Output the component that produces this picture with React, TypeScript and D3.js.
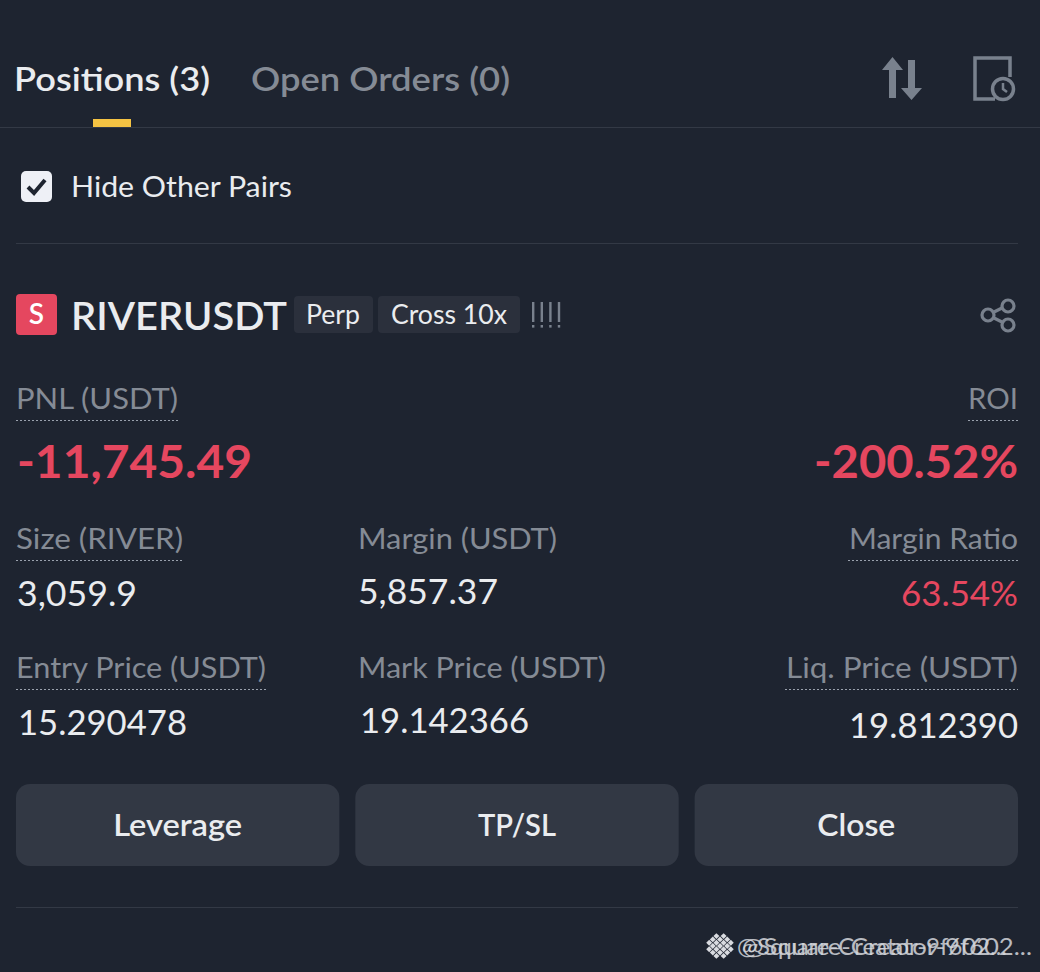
import React from 'react';
import * as d3 from 'd3';

const tabs = ['Positions (3)', 'Open Orders (0)'];
const filterLabel = 'Hide Other Pairs';
const symbol = 'RIVERUSDT';
const sideLabel = 'S';
const badges = ['Perp', 'Cross 10x'];
const pnlLabels = ['PNL (USDT)', 'ROI'];
const pnlValues = ['-11,745.49', '-200.52%'];
const rowOneLabels = ['Size (RIVER)', 'Margin (USDT)', 'Margin Ratio'];
const rowOneValues = ['3,059.9', '5,857.37', '63.54%'];
const rowTwoLabels = ['Entry Price (USDT)', 'Mark Price (USDT)', 'Liq. Price (USDT)'];
const rowTwoValues = ['15.290478', '19.142366', '19.812390'];
const buttons = ['Leverage', 'TP/SL', 'Close'];
const watermark = ['@Square-Creator-9f602...', '@Square-Creator-9f602...'];

const width = 1040;
const height = 972;
const BG = '#1e2430';
const WHITE = '#eaecef';
const GREY = '#858b95';
const RED = '#e5475f';
const LINE = '#333945';
const ICON = '#79818d';
const FONT = 'Lato, "Open Sans", sans-serif';

const buttonX = d3.scaleBand<string>().domain(buttons).range([16, 1018]).paddingInner(0.047).paddingOuter(0);
const buttonWidths = [129, 78, 78];

const anchors = ['start', 'start', 'end'];
const colX = [16, 358, 1018];
const rowOneLabelWidths = [167, 199, 169];
const rowTwoLabelWidths = [250, 248, 232];

// text stretched to the width it has in the reference
const T = ({ w, children, ...rest }: any) => (
  <text textLength={w} lengthAdjust="spacingAndGlyphs" {...rest}>
    {children}
  </text>
);

const dotted = (x1: number, x2: number, y: number) => (
  <line x1={x1} x2={x2} y1={y} y2={y} stroke="#9aa1ad" strokeWidth={1.2} strokeDasharray="2 2" />
);

export default function App() {
  return (
    <svg
      width={width}
      height={height}
      viewBox={`0 0 ${width} ${height}`}
      style={{ position: 'absolute', left: 0, top: 0, fontFamily: FONT }}
    >
      <rect width={width} height={height} fill={BG} />

      {/* tabs */}
      <T x={14} y={91} w={196} fontSize={33} fontWeight={600} fill={WHITE}>{tabs[0]}</T>
      <T x={251} y={91} w={259} fontSize={33} fontWeight={600} fill={GREY}>{tabs[1]}</T>
      <rect x={93} y={119} width={38} height={8} fill="#f5c343" />
      <line x1={0} x2={width} y1={127.5} y2={127.5} stroke={LINE} />

      {/* swap icon */}
      <g fill={ICON}>
        <path d="M889 98V70H882L892.5 57L903 70H896V98Z" />
        <path d="M908 60H915V88H922L911.5 100L901 88H908Z" />
      </g>
      {/* history icon */}
      <g fill="none" stroke={ICON} strokeWidth={3.5}>
        <path d="M995 99H975V58H1010V77" />
        <circle cx={1003} cy={89} r={10.5} />
        <path d="M1003 83V89L1007 92" strokeWidth={2.5} />
      </g>

      {/* filter */}
      <rect x={21} y={171} width={31} height={31} rx={5} fill="#eef0f6" />
      <path d="M28 187L34 193L45 180" fill="none" stroke={BG} strokeWidth={4} />
      <T x={71} y={197} w={221} fontSize={29} fill={WHITE}>{filterLabel}</T>
      <line x1={16} x2={1018} y1={243.5} y2={243.5} stroke={LINE} />

      {/* symbol row */}
      <rect x={16} y={294} width={41} height={41} rx={4} fill={RED} />
      <text x={36.5} y={324} fontSize={28} fontWeight={600} fill="#fff" textAnchor="middle">{sideLabel}</text>
      <T x={71} y={330} w={216} fontSize={38} fontWeight={600} fill={WHITE}>{symbol}</T>
      <rect x={294} y={296} width={79} height={37} rx={4} fill="#2b303c" />
      <T x={306} y={324} w={54} fontSize={26} fill={WHITE}>{badges[0]}</T>
      <rect x={378} y={296} width={142} height={37} rx={4} fill="#2b303c" />
      <T x={391} y={324} w={116} fontSize={26} fill={WHITE}>{badges[1]}</T>
      <g fill={ICON}>
        {d3.range(4).map((i) => (
          <g key={i}>
            <rect x={532 + i * 8.6} y={302} width={2.4} height={20} />
            <rect x={532 + i * 8.6} y={325} width={2.4} height={2.6} />
          </g>
        ))}
      </g>
      {/* share icon */}
      <g fill="none" stroke={ICON} strokeWidth={3.2}>
        <circle cx={1008} cy={306} r={6} />
        <circle cx={988} cy={315} r={6} />
        <circle cx={1008} cy={325} r={6} />
        <path d="M994 312L1002 308M994 318L1002 322" />
      </g>

      {/* pnl */}
      <T x={16} y={409} w={162} fontSize={29} fill={GREY}>{pnlLabels[0]}</T>
      {dotted(16, 178, 420.5)}
      <T x={1018} y={409} w={50} fontSize={29} fill={GREY} textAnchor="end">{pnlLabels[1]}</T>
      {dotted(968, 1018, 420.5)}
      <T x={17} y={478} w={235} fontSize={46} fontWeight={700} fill={RED}>{pnlValues[0]}</T>
      <T x={1018} y={478} w={204} fontSize={46} fontWeight={700} fill={RED} textAnchor="end">{pnlValues[1]}</T>

      {/* first row */}
      {rowOneLabels.map((t, i) => (
        <T key={t} x={colX[i]} y={549} w={rowOneLabelWidths[i]} fontSize={29} fill={GREY} textAnchor={anchors[i]}>{t}</T>
      ))}
      {dotted(16, 183, 560.5)}
      {dotted(848, 1018, 560.5)}
      <T x={17} y={606} w={120} fontSize={34} fill={WHITE}>{rowOneValues[0]}</T>
      <T x={358} y={604} w={140} fontSize={34} fill={WHITE}>{rowOneValues[1]}</T>
      <T x={1018} y={606} w={117} fontSize={34} fill={RED} textAnchor="end">{rowOneValues[2]}</T>

      {/* second row */}
      {rowTwoLabels.map((t, i) => (
        <T key={t} x={colX[i]} y={678} w={rowTwoLabelWidths[i]} fontSize={29} fill={GREY} textAnchor={anchors[i]}>{t}</T>
      ))}
      {dotted(16, 267, 689.5)}
      {dotted(785, 1018, 689.5)}
      <T x={18} y={735} w={169} fontSize={34} fill={WHITE}>{rowTwoValues[0]}</T>
      <T x={360} y={733} w={169} fontSize={34} fill={WHITE}>{rowTwoValues[1]}</T>
      <T x={1018} y={738} w={169} fontSize={34} fill={WHITE} textAnchor="end">{rowTwoValues[2]}</T>

      {/* buttons */}
      {buttons.map((b, i) => (
        <g key={b}>
          <rect x={buttonX(b)} y={784} width={buttonX.bandwidth()} height={82} rx={14} fill="#323844" />
          <T
            x={(buttonX(b) as number) + buttonX.bandwidth() / 2}
            y={836}
            w={buttonWidths[i]}
            fontSize={30}
            fontWeight={600}
            fill={WHITE}
            textAnchor="middle"
          >
            {b}
          </T>
        </g>
      ))}
      <line x1={16} x2={1018} y1={907.5} y2={907.5} stroke={LINE} />

      {/* watermark */}
      <g fill="#d9dbe0">
        {d3.range(-2, 3).flatMap((dx) =>
          d3.range(-2, 3)
            .filter((dy) => Math.abs(dx) + Math.abs(dy) <= 3)
            .map((dy) => (
              <rect
                key={`${dx}-${dy}`}
                x={-2.1}
                y={-2.1}
                width={4.2}
                height={4.2}
                transform={`translate(${720 + (dx - dy) * 3.6} ${946 + (dx + dy) * 3.3}) rotate(45)`}
              />
            ))
        )}
      </g>
      <T x={737} y={955} w={270} fontSize={24} fill="#d4d6db" opacity={0.85}>{watermark[0]}</T>
      <T x={742} y={955} w={290} fontSize={24} fill="#d4d6db" opacity={0.85}>{watermark[1]}</T>
    </svg>
  );
}
